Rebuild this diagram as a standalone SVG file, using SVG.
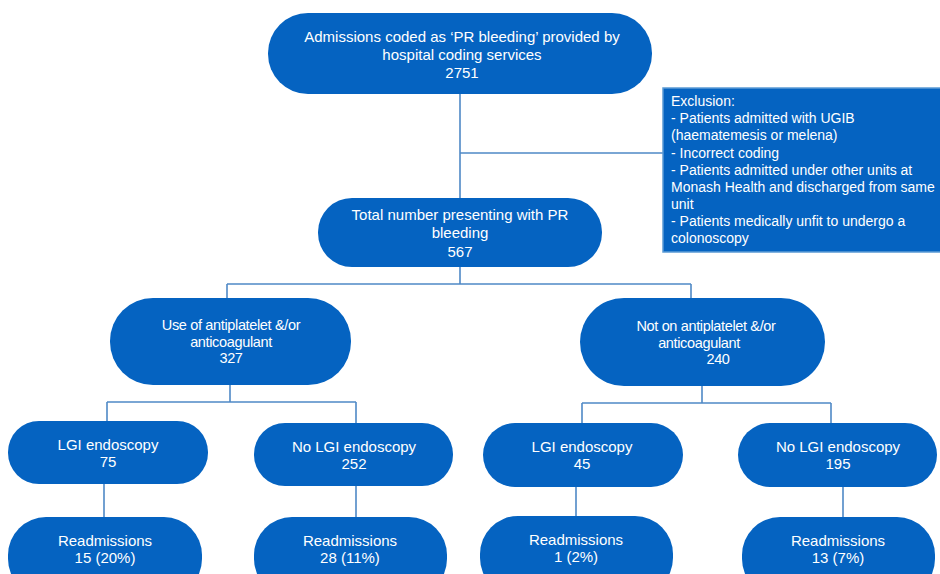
<svg xmlns="http://www.w3.org/2000/svg" width="940" height="574" viewBox="0 0 940 574">
<style>
.n{fill:#0563C1;}
.t{fill:#fff;font-family:"Liberation Sans",Arial,sans-serif;font-size:15px;text-anchor:middle;}
.c{fill:#fff;font-family:"Liberation Sans",Arial,sans-serif;font-size:14.5px;text-anchor:middle;letter-spacing:-0.35px;}
.x{fill:#fff;font-family:"Liberation Sans",Arial,sans-serif;font-size:14px;}
.l{fill:none;stroke:#4F89C6;stroke-width:1.6;}
</style>
<rect width="940" height="574" fill="#fff"/>
<g id="connectors">
<path class="l" d="M460 94V199M460 153H663"/>
<path class="l" d="M460 267V284M227 284H691M227 284V299M691 284V299"/>
<path class="l" d="M230 385V402M107 402H356M107 402V421M356 402V423"/>
<path class="l" d="M702 386V403M582 403H831M582 403V424M831 403V424"/>
<path class="l" d="M104 484V518M356 486V518M576 487V517M843 487V518"/>
</g>
<g id="n-admissions">
<rect class="n" x="268" y="13" width="384" height="81" rx="40"/>
<text class="t" x="462" y="42">Admissions coded as ‘PR bleeding’ provided by</text>
<text class="t" x="462" y="60">hospital coding services</text>
<text class="t" x="462" y="78">2751</text>
</g>
<g id="n-exclusion">
<rect x="663" y="88" width="280" height="164" fill="#0563C1" stroke="#5B9BD5" stroke-width="1.5"/>
<text class="x" x="671" y="106">Exclusion:</text>
<text class="x" x="671" y="123">- Patients admitted with UGIB</text>
<text class="x" x="671" y="140">(haematemesis or melena)</text>
<text class="x" x="671" y="158">- Incorrect coding</text>
<text class="x" x="671" y="175">- Patients admitted under other units at</text>
<text class="x" x="671" y="192">Monash Health and discharged from same</text>
<text class="x" x="671" y="209">unit</text>
<text class="x" x="671" y="226">- Patients medically unfit to undergo a</text>
<text class="x" x="671" y="243">colonoscopy</text>
</g>
<g id="n-total">
<rect class="n" x="318" y="198" width="284" height="69" rx="34"/>
<text class="t" x="460" y="220">Total number presenting with PR</text>
<text class="t" x="460" y="238">bleeding</text>
<text class="t" x="460" y="257">567</text>
</g>
<g id="n-use">
<rect class="n" x="110" y="298" width="241" height="87" rx="43"/>
<text class="c" x="231" y="330">Use of antiplatelet &amp;/or</text>
<text class="c" x="231" y="347">anticoagulant</text>
<text class="c" x="231" y="363">327</text>
</g>
<g id="n-noton">
<rect class="n" x="580" y="298" width="245" height="88" rx="44"/>
<text class="c" x="706" y="331">Not on antiplatelet &amp;/or</text>
<text class="c" x="699" y="348">anticoagulant</text>
<text class="c" x="718" y="364">240</text>
</g>
<g id="n-lgi75">
<rect class="n" x="8" y="421" width="200" height="63" rx="31"/>
<text class="t" x="108" y="450">LGI endoscopy</text>
<text class="t" x="108" y="467">75</text>
</g>
<g id="n-nolgi252">
<rect class="n" x="254" y="423" width="199" height="63" rx="31"/>
<text class="t" x="354" y="452">No LGI endoscopy</text>
<text class="t" x="354" y="469">252</text>
</g>
<g id="n-lgi45">
<rect class="n" x="483" y="423" width="200" height="64" rx="32"/>
<text class="t" x="582" y="452">LGI endoscopy</text>
<text class="t" x="582" y="469">45</text>
</g>
<g id="n-nolgi195">
<rect class="n" x="738" y="423" width="199" height="64" rx="32"/>
<text class="t" x="838" y="452">No LGI endoscopy</text>
<text class="t" x="838" y="469">195</text>
</g>
<g id="n-r1">
<rect class="n" x="8" y="517" width="194" height="80" rx="38"/>
<text class="t" x="105" y="546">Readmissions</text>
<text class="t" x="105" y="563">15 (20%)</text>
</g>
<g id="n-r2">
<rect class="n" x="254" y="517" width="193" height="80" rx="38"/>
<text class="t" x="350" y="546">Readmissions</text>
<text class="t" x="350" y="563">28 (11%)</text>
</g>
<g id="n-r3">
<rect class="n" x="480" y="516" width="193" height="80" rx="38"/>
<text class="t" x="576" y="545">Readmissions</text>
<text class="t" x="576" y="562">1 (2%)</text>
</g>
<g id="n-r4">
<rect class="n" x="742" y="517" width="193" height="80" rx="38"/>
<text class="t" x="838" y="546">Readmissions</text>
<text class="t" x="838" y="563">13 (7%)</text>
</g>
</svg>
